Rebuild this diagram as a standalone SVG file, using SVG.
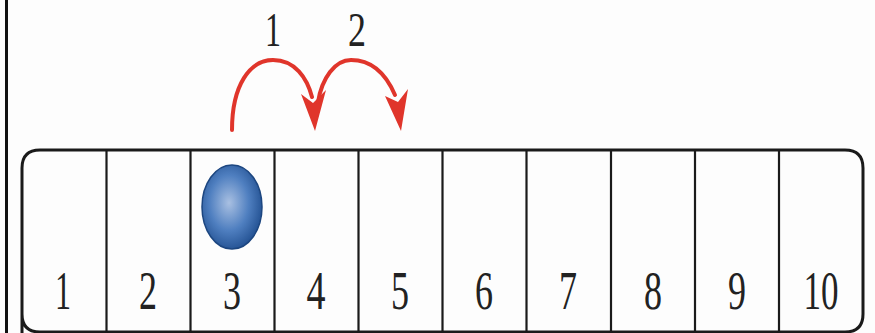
<svg xmlns="http://www.w3.org/2000/svg" width="875" height="333" viewBox="0 0 875 333">
<defs>
<radialGradient id="ballGrad" cx="0.45" cy="0.45" r="0.6">
<stop offset="0" stop-color="#a9c0e2"/>
<stop offset="0.55" stop-color="#4f7fc0"/>
<stop offset="1" stop-color="#1f4d8e"/>
</radialGradient>
<style>
.num{font-family:"Liberation Serif","Times New Roman",serif;font-size:54px;fill:#222;text-anchor:middle}
.step{font-family:"Liberation Serif","Times New Roman",serif;font-size:49px;fill:#222;text-anchor:middle}
.div{stroke:#1a1a1a;stroke-width:2.2;fill:none}
.arc{stroke:#e0352b;stroke-width:4;fill:none;stroke-linecap:round}
.head{fill:#e0352b}
</style>
</defs>
<rect width="875" height="333" fill="#fdfdfd"/>
<line x1="6.5" y1="0" x2="6.5" y2="333" stroke="#111" stroke-width="3"/>
<g id="board">
<path d="M22,333 L22,168 Q22,150 40,150 L845,150 Q863,150 863,168 L863,314 Q863,332 845,332 L40,332 Q22,332 22,314" fill="none" stroke="#1a1a1a" stroke-width="3"/>
<line class="div" x1="106.5" y1="150" x2="106.5" y2="333"/>
<line class="div" x1="190.5" y1="150" x2="190.5" y2="333"/>
<line class="div" x1="274.5" y1="150" x2="274.5" y2="333"/>
<line class="div" x1="358.5" y1="150" x2="358.5" y2="333"/>
<line class="div" x1="442.5" y1="150" x2="442.5" y2="333"/>
<line class="div" x1="526.5" y1="150" x2="526.5" y2="333"/>
<line class="div" x1="611" y1="150" x2="611" y2="333"/>
<line class="div" x1="695" y1="150" x2="695" y2="333"/>
<line class="div" x1="779" y1="150" x2="779" y2="333"/>
</g>
<g id="cell-labels">
<text class="num" x="63" y="309" textLength="16" lengthAdjust="spacingAndGlyphs">1</text>
<text class="num" x="148" y="309" textLength="18" lengthAdjust="spacingAndGlyphs">2</text>
<text class="num" x="232" y="309" textLength="18" lengthAdjust="spacingAndGlyphs">3</text>
<text class="num" x="316" y="309" textLength="19" lengthAdjust="spacingAndGlyphs">4</text>
<text class="num" x="400" y="309" textLength="18" lengthAdjust="spacingAndGlyphs">5</text>
<text class="num" x="484" y="309" textLength="18" lengthAdjust="spacingAndGlyphs">6</text>
<text class="num" x="568" y="309" textLength="18" lengthAdjust="spacingAndGlyphs">7</text>
<text class="num" x="653" y="309" textLength="18" lengthAdjust="spacingAndGlyphs">8</text>
<text class="num" x="737" y="309" textLength="18" lengthAdjust="spacingAndGlyphs">9</text>
<text class="num" x="821" y="309" textLength="35" lengthAdjust="spacingAndGlyphs">10</text>
</g>
<g id="ball">
<ellipse cx="232" cy="207" rx="30" ry="42" fill="url(#ballGrad)" stroke="#1c4680" stroke-width="1.5"/>
</g>
<g id="connectors">
<path class="arc" d="M232,130 C232,85 250,60 273,60 C295,60 307,78 312,97"/>
<polygon class="head" points="315,131 301,94 313,103 326,90"/>
<path class="arc" d="M318,102 C322,78 335,60 351,60 C372,60 386,74 395,95"/>
<polygon class="head" points="401,131 385,96 398,102 408,89"/>
</g>
<g id="step-labels">
<text class="step" x="273" y="46" textLength="16" lengthAdjust="spacingAndGlyphs">1</text>
<text class="step" x="357" y="46" textLength="18" lengthAdjust="spacingAndGlyphs">2</text>
</g>
</svg>
